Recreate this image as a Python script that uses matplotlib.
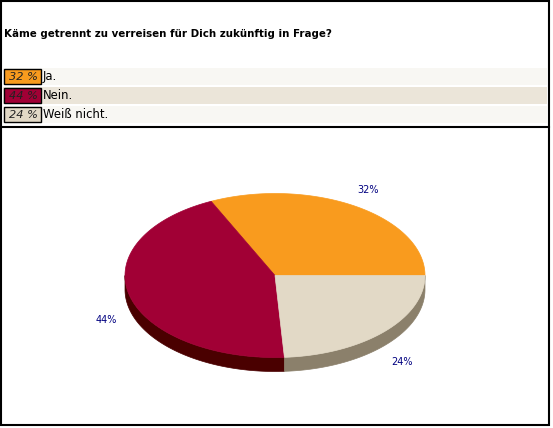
import matplotlib
matplotlib.use("Agg")
import matplotlib.pyplot as plt
import numpy as np
from matplotlib.patches import Rectangle, Polygon

question = "Käme getrennt zu verreisen für Dich zukünftig in Frage?"
answers = ["Ja.", "Nein.", "Weiß nicht."]
shares = [32, 44, 24]
top_colors = ["#F99B1E", "#A10035", "#E2D9C6"]
side_colors = ["#B86E10", "#4A0000", "#8B806B"]
row_colors = ["#F8F7F3", "#EBE5D9", "#F8F7F3"]

W, H = 553, 428
fig = plt.figure(figsize=(W / 100, H / 100), dpi=100)
ax = fig.add_axes([0, 0, 1, 1])
ax.set_xlim(0, W)
ax.set_ylim(H, 0)
ax.axis("off")

# frame and separator
ax.add_patch(Rectangle((0.5, 0.5), 548.5, 424, fill=False, ec="black", lw=1.5))
ax.plot([0.5, 549], [126.5, 126.5], color="black", lw=1.5)

ax.text(4, 34, question, fontsize=7.4, fontweight="bold", va="center", ha="left")

# legend rows
row_top = [68, 87, 106]
for i, (a, s) in enumerate(zip(answers, shares)):
    y0 = row_top[i]
    ax.add_patch(Rectangle((3, y0), 544, 17, color=row_colors[i], lw=0))
    ax.add_patch(Rectangle((4, y0 + 1), 36.5, 14.5, fc=top_colors[i], ec="black", lw=1))
    ax.text(38, y0 + 8.5, f"{s} %", fontsize=8.2, style="italic", color="#222222",
            ha="right", va="center")
    ax.text(43, y0 + 8.5, a, fontsize=8.4, ha="left", va="center")

# 3d pie
cx, cy, rx, ry, depth = 275, 275.5, 150, 82, 14
bounds = np.concatenate([[0], np.cumsum(shares)]) / sum(shares) * 360


def arc(a0, a1, n=120):
    t = np.radians(np.linspace(a0, a1, n))
    return cx + rx * np.cos(t), cy - ry * np.sin(t)


# sides (front half only)
for i in range(len(shares)):
    a0, a1 = max(bounds[i], 180), min(bounds[i + 1], 360)
    if a1 <= a0:
        continue
    x, y = arc(a0, a1)
    pts = np.column_stack([np.concatenate([x, x[::-1]]),
                           np.concatenate([y, y[::-1] + depth])])
    ax.add_patch(Polygon(pts, closed=True, fc=side_colors[i], ec=side_colors[i], lw=0.5))

# top faces
for i in range(len(shares)):
    x, y = arc(bounds[i], bounds[i + 1])
    pts = np.column_stack([np.concatenate([[cx], x]), np.concatenate([[cy], y])])
    ax.add_patch(Polygon(pts, closed=True, fc=top_colors[i], ec=top_colors[i], lw=0.5))

# value labels
for i, s in enumerate(shares):
    mid = np.radians((bounds[i] + bounds[i + 1]) / 2)
    lx = cx + 1.16 * rx * np.cos(mid)
    ly = cy - 1.16 * ry * np.sin(mid)
    ly += 21 if np.sin(mid) < 0 else -5
    ax.text(lx, ly, f"{s}%", fontsize=7, color="#000080", ha="center", va="center")

fig.savefig("out.png", dpi=100)
